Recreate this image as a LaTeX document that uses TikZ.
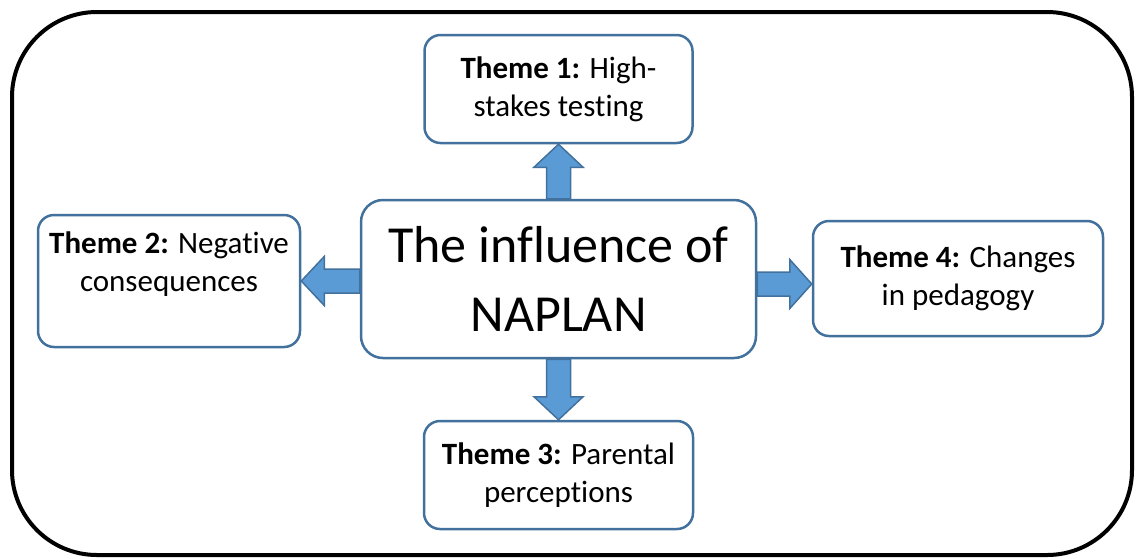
\documentclass[tikz,border=0pt]{standalone}
\usepackage{fontspec}
\setmainfont{Carlito}[Ligatures=NoCommon]
\usetikzlibrary{calc}
\definecolor{boxblue}{HTML}{41719C}
\definecolor{arrowfill}{HTML}{5B9BD5}
\begin{document}
\begin{tikzpicture}[x=1pt,y=-1pt,
  theme/.style={draw=boxblue, line width=2.5pt, rounded corners=16pt, fill=white,
    align=center, inner sep=0pt, font=\fontsize{31}{38}\selectfont},
  centerbox/.style={theme, rounded corners=22pt, font=\fontsize{52}{69}\selectfont},
  blockarrow/.style={fill=arrowfill, draw=boxblue, line width=1.5pt, line join=miter},
  frame/.style={draw=black, line width=4pt, rounded corners=85pt}]
\path[use as bounding box] (0,0) rectangle (1137,558);
\draw[frame] (12,12) rectangle (1132,555);

\node[centerbox, minimum width=395pt, minimum height=158pt] (C) at (558.5,279) {The influence of\\NAPLAN};
\node[theme, minimum width=268pt, minimum height=108pt] (T1) at (558.5,89) {\textbf{Theme 1:} High-\\stakes testing};
\node[theme, minimum width=262pt, minimum height=132pt] (T2) at (169,281) {\textbf{Theme 2:} Negative\\consequences\\\mbox{}};
\node[theme, minimum width=269pt, minimum height=108pt] (T3) at (558.5,475) {\textbf{Theme 3:} Parental\\perceptions};
\node[theme, minimum width=290pt, minimum height=115pt] (T4) at (958,278.5) {\textbf{Theme 4:} Changes\\in pedagogy};

% up arrow
\draw[blockarrow] ($(C.north)+(-12,0)$) -- ($(T1.south)+(-12,23)$) -- ($(T1.south)+(-24.5,23)$)
  -- (T1.south) -- ($(T1.south)+(24.5,23)$) -- ($(T1.south)+(12,23)$) -- ($(C.north)+(12,0)$) -- cycle;
% down arrow
\draw[blockarrow] ($(C.south)+(-12,0)$) -- ($(T3.north)+(-12,-23)$) -- ($(T3.north)+(-24.5,-23)$)
  -- (T3.north) -- ($(T3.north)+(24.5,-23)$) -- ($(T3.north)+(12,-23)$) -- ($(C.south)+(12,0)$) -- cycle;
% left arrow
\coordinate (Lb) at (C.west |- T2.east);
\draw[blockarrow] ($(Lb)+(0,-12)$) -- ($(T2.east)+(23,-12)$) -- ($(T2.east)+(23,-24.5)$)
  -- (T2.east) -- ($(T2.east)+(23,24.5)$) -- ($(T2.east)+(23,12)$) -- ($(Lb)+(0,12)$) -- cycle;
% right arrow
\coordinate (Rb) at ($(C.east)+(0,5)$);
\coordinate (Rt) at (T4.west |- Rb);
\draw[blockarrow] ($(Rb)+(0,-12)$) -- ($(Rt)+(-22,-12)$) -- ($(Rt)+(-22,-24.5)$)
  -- (Rt) -- ($(Rt)+(-22,24.5)$) -- ($(Rt)+(-22,12)$) -- ($(Rb)+(0,12)$) -- cycle;
\end{tikzpicture}
\end{document}
